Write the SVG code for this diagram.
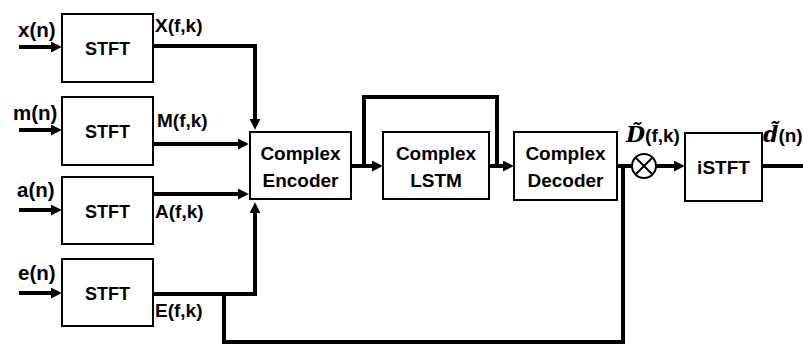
<svg xmlns="http://www.w3.org/2000/svg" width="803" height="345" viewBox="0 0 803 345">
<style>
.box{fill:#fff;stroke:#000;stroke-width:2}
.t{font-family:"Liberation Sans",Arial,sans-serif;font-weight:bold;font-size:19px;fill:#000}
.c{text-anchor:middle}
.s{font-size:18px}
.in{font-size:20.5px}
.w{fill:none;stroke:#000;stroke-width:4;stroke-linejoin:miter}
.m{font-family:"DejaVu Serif","Liberation Serif",serif;font-style:italic;font-weight:bold;font-size:22px;fill:#000}
</style>
<defs>
<marker id="ah" viewBox="0 0 10 10" refX="2" refY="5" markerWidth="11" markerHeight="11" markerUnits="userSpaceOnUse" orient="auto">
<path d="M0,0 L10,5 L0,10 z" fill="#000"/>
</marker>
</defs>
<rect width="803" height="345" fill="#fff"/>
<g id="connectors">
<path class="w" d="M19,47 H53" marker-end="url(#ah)"/>
<path class="w" d="M19,130 H53" marker-end="url(#ah)"/>
<path class="w" d="M19,210 H53" marker-end="url(#ah)"/>
<path class="w" d="M19,293 H53" marker-end="url(#ah)"/>
<path class="w" d="M153,46 H255 V121" marker-end="url(#ah)"/>
<path class="w" d="M153,144 H240" marker-end="url(#ah)"/>
<path class="w" d="M153,194 H240" marker-end="url(#ah)"/>
<path class="w" d="M153,294 H255 V211" marker-end="url(#ah)"/>
<path class="w" d="M224,294 V342 H623 V166"/>
<path class="w" d="M351,166 H374" marker-end="url(#ah)"/>
<path class="w" d="M364,166 V97 H497 V166"/>
<path class="w" d="M489,166 H505" marker-end="url(#ah)"/>
<path class="w" d="M617,166 H632"/>
<path class="w" d="M656,166 H676" marker-end="url(#ah)"/>
<path class="w" d="M762,166 H803"/>
</g>
<g id="stft_x">
<rect class="box" x="62" y="14" width="91" height="68"/>
<text class="t s c" x="107.5" y="55">STFT</text>
</g>
<g id="stft_m">
<rect class="box" x="62" y="97" width="91" height="68"/>
<text class="t s c" x="107.5" y="138">STFT</text>
</g>
<g id="stft_a">
<rect class="box" x="62" y="177" width="91" height="67"/>
<text class="t s c" x="107.5" y="218">STFT</text>
</g>
<g id="stft_e">
<rect class="box" x="62" y="259" width="91" height="67"/>
<text class="t s c" x="107.5" y="300">STFT</text>
</g>
<g id="encoder">
<rect class="box" x="250" y="132" width="101" height="67"/>
<text class="t c" x="300.5" y="160">Complex</text>
<text class="t c" x="300.5" y="187">Encoder</text>
</g>
<g id="lstm">
<rect class="box" x="383" y="132" width="106" height="67"/>
<text class="t c" x="436" y="160">Complex</text>
<text class="t c" x="436" y="187">LSTM</text>
</g>
<g id="decoder">
<rect class="box" x="514" y="132" width="103" height="68"/>
<text class="t c" x="565.5" y="160">Complex</text>
<text class="t c" x="565.5" y="187">Decoder</text>
</g>
<g id="multiply">
<circle cx="644" cy="166" r="12" fill="#fff" stroke="#000" stroke-width="2"/>
<path d="M635.5,157.5 L652.5,174.5 M652.5,157.5 L635.5,174.5" stroke="#000" stroke-width="2"/>
</g>
<g id="istft">
<rect class="box" x="685" y="133" width="77" height="68"/>
<text class="t c" x="723.5" y="174">iSTFT</text>
</g>
<g id="labels">
<text class="t in" x="18" y="37">x(n)</text>
<text class="t in" x="13" y="120">m(n)</text>
<text class="t in" x="17" y="197">a(n)</text>
<text class="t in" x="18" y="280">e(n)</text>
<text class="t" x="155" y="32">X(f,k)</text>
<text class="t" x="157" y="127">M(f,k)</text>
<text class="t" x="155" y="218">A(f,k)</text>
<text class="t" x="155" y="317">E(f,k)</text>
<text x="626" y="142"><tspan class="m">D̃</tspan><tspan class="t">(f,k)</tspan></text>
<text x="763" y="142"><tspan class="m">d̃</tspan><tspan class="t">(n)</tspan></text>
</g>
</svg>
